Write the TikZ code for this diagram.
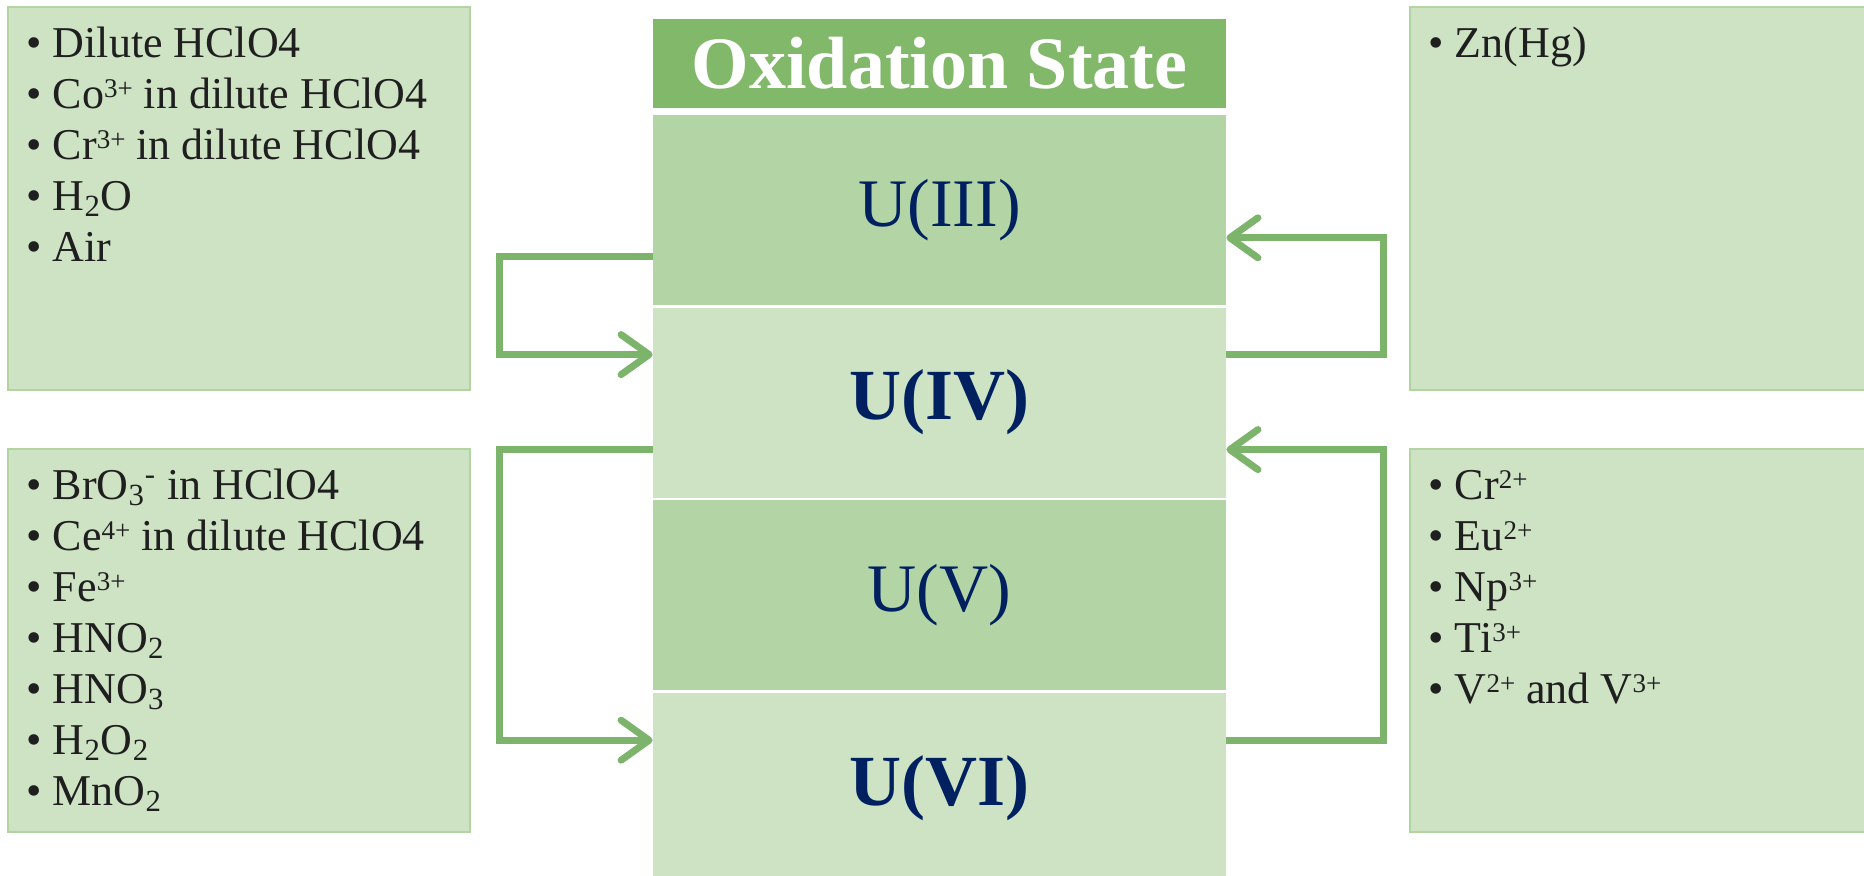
\documentclass[tikz,border=0pt]{standalone}
\usepackage{fontspec}
\setmainfont{Liberation Serif}
\usetikzlibrary{positioning,arrows.meta}

\definecolor{hdrgreen}{RGB}{130,184,106}
\definecolor{midgreen}{RGB}{179,212,165}
\definecolor{palegreen}{RGB}{206,227,196}
\definecolor{edgegreen}{RGB}{178,212,162}
\definecolor{flowgreen}{RGB}{125,180,108}
\definecolor{statenavy}{RGB}{0,32,96}

\newcommand{\itm}[1]{\textbullet\ #1\strut}
\newcommand{\ionsup}[1]{\raisebox{5.6pt}{\fontsize{13.5}{14}\selectfont #1}}

\tikzset{
  statebox/.style={minimum width=286.5pt, minimum height=95pt, inner sep=0pt, text=statenavy},
  sidebox/.style={fill=palegreen, draw=edgegreen, line width=1pt, minimum width=231pt, minimum height=191.5pt, inner sep=0pt},
  listtext/.style={anchor=north west, inner sep=0pt, align=left, font=\fontsize{22}{25.5}\selectfont, text=black!88},
  flow/.style={draw=flowgreen, line width=3.5pt, -{Straight Barb[length=14pt,width=20pt,round]}},
}

\begin{document}
\begin{tikzpicture}[x=0.5pt,y=0.5pt]
\useasboundingbox (0,0) rectangle (1864,875);

% Central column
\node[fill=hdrgreen, minimum width=286.5pt, minimum height=44.5pt, inner sep=0pt, text=white,
      font=\fontsize{37}{40}\selectfont\bfseries] (head) at (939.5,811.5) {Oxidation State};
\node[statebox, fill=midgreen, below=3pt of head, font=\fontsize{34}{38}\selectfont] (u3) {U(III)};
\node[statebox, fill=palegreen, below=1pt of u3, font=\fontsize{36}{40}\selectfont\bfseries] (u4) {U(IV)};
\node[statebox, fill=midgreen, below=1pt of u4, font=\fontsize{34}{38}\selectfont] (u5) {U(V)};
\node[statebox, fill=palegreen, below=1pt of u5, font=\fontsize{36}{40}\selectfont\bfseries] (u6) {U(VI)};

% Reagent boxes
\node[sidebox] (lt) at (239,676.5) {};
\node[sidebox] (lb) at (239,234.5) {};
\node[sidebox] (rt) at (1641,676.5) {};
\node[sidebox] (rb) at (1641,234.5) {};

\node[listtext] (ltlist) at ([xshift=9.5pt,yshift=-7.6pt]lt.north west)
  {\itm{Dilute HClO4}\\ \itm{Co\ionsup{3+} in dilute HClO4}\\ \itm{Cr\ionsup{3+} in dilute HClO4}\\
   \itm{H\textsubscript{2}O}\\ \itm{Air}};
\node[listtext] (lblist) at ([xshift=9.5pt,yshift=-7.6pt]lb.north west)
  {\itm{BrO\textsubscript{3}\textsuperscript{-} in HClO4}\\ \itm{Ce\ionsup{4+} in dilute HClO4}\\ \itm{Fe\ionsup{3+}}\\
   \itm{HNO\textsubscript{2}}\\ \itm{HNO\textsubscript{3}}\\ \itm{H\textsubscript{2}O\textsubscript{2}}\\ \itm{MnO\textsubscript{2}}};
\node[listtext] (rtlist) at ([xshift=9.5pt,yshift=-7.6pt]rt.north west) {\itm{Zn(Hg)}};
\node[listtext] (rblist) at ([xshift=9.5pt,yshift=-7.6pt]rb.north west)
  {\itm{Cr\ionsup{2+}}\\ \itm{Eu\ionsup{2+}}\\ \itm{Np\ionsup{3+}}\\ \itm{Ti\ionsup{3+}}\\
   \itm{V\ionsup{2+} and V\ionsup{3+}}};

% Oxidation (left) and reduction (right) loops
\draw[flow] ([yshift=-23.5pt]u3.west) -- ++(-76.5pt,0pt) |- ([yshift=24pt]u4.west);
\draw[flow] ([yshift=-23.5pt]u4.west) -- ++(-76.5pt,0pt) |- ([yshift=24pt]u6.west);
\draw[flow] ([yshift=24pt]u4.east) -- ++(78.5pt,0pt) |- ([yshift=-14pt]u3.east);
\draw[flow] ([yshift=24pt]u6.east) -- ++(78.5pt,0pt) |- ([yshift=-23.5pt]u4.east);

\end{tikzpicture}
\end{document}
